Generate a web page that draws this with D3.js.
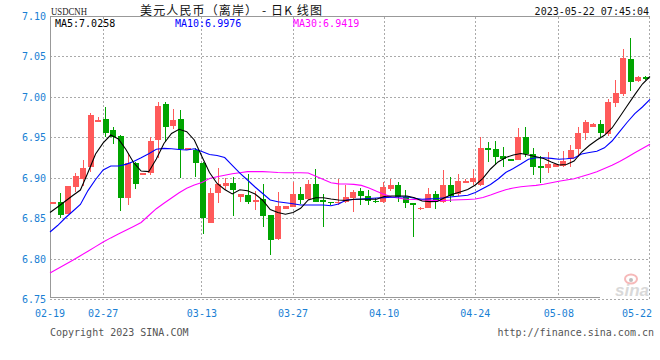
<!DOCTYPE html>
<html><head><meta charset="utf-8">
<script src="https://cdn.jsdelivr.net/npm/d3@7"></script>
<style>body{margin:0;background:#fff}svg{display:block}</style>
</head><body>
<svg id="c" width="660" height="360"></svg>
<script>
const open = [6.8688,6.8700,6.8557,6.8895,6.8987,6.9135,6.9695,6.9732,6.9596,6.9522,
6.8760,6.9192,6.9040,6.9061,6.9473,6.9918,6.9650,6.9732,6.9363,6.9349,
6.9192,6.8450,6.8817,6.8904,6.8945,6.8771,6.8792,6.8710,6.8743,6.8545,
6.8248,6.8619,6.8648,6.8805,6.8743,6.8929,6.8731,6.8712,6.8690,6.8710,
6.8752,6.8842,6.8780,6.8723,6.8710,6.8863,6.8916,6.8764,6.8692,6.8616,
6.8635,6.8805,6.8710,6.8916,6.8805,6.8937,6.8957,6.8916,6.9370,6.9358,
6.9275,6.9236,6.9225,6.9513,6.9300,6.9151,6.9123,6.9142,6.9151,6.9234,
6.9358,6.9556,6.9630,6.9667,6.9543,6.9934,7.0038,7.0471,7.0202,7.0248];
const close = [6.8703,6.8545,6.8904,6.9027,6.9126,6.9782,6.9720,6.9563,6.9513,6.8759,
6.9192,6.8929,6.9061,6.9464,6.9893,6.9630,6.9720,6.9361,6.9372,6.9188,
6.8508,6.8817,6.8929,6.8945,6.8854,6.8805,6.8710,6.8731,6.8537,6.8236,
6.8656,6.8656,6.8805,6.8731,6.8929,6.8710,6.8710,6.8708,6.8710,6.8768,
6.8833,6.8780,6.8722,6.8717,6.8888,6.8916,6.8764,6.8697,6.8688,6.8635,
6.8805,6.8722,6.8916,6.8780,6.8966,6.8966,6.9006,6.9370,6.9349,6.9259,
6.9234,6.9232,6.9513,6.9300,6.9142,6.9123,6.9176,6.9176,6.9213,6.9349,
6.9563,6.9699,6.9667,6.9563,6.9946,7.0058,7.0483,7.0194,7.0248,7.0231];
const high = [6.8706,6.8820,6.8908,6.9068,6.9225,6.9810,6.9753,6.9885,6.9630,6.9535,
6.9308,6.9204,6.9065,6.9513,6.9946,6.9943,6.9856,6.9844,6.9375,6.9374,
6.9204,6.8879,6.9130,6.9003,6.9019,6.8805,6.9052,6.8842,6.8929,6.8550,
6.8833,6.8660,6.8957,6.8891,6.8978,6.9114,6.8805,6.8712,6.8990,6.8916,
6.8854,6.8875,6.8854,6.8752,6.8957,6.8987,6.8957,6.8854,6.8697,6.8640,
6.8875,6.8842,6.9102,6.9011,6.9052,6.8990,6.9110,6.9506,6.9452,6.9460,
6.9390,6.9236,6.9625,6.9637,6.9370,6.9275,6.9321,6.9180,6.9337,6.9411,
6.9637,6.9720,6.9679,6.9720,6.9980,7.0215,7.0594,7.0730,7.0264,7.0264];
const low = [6.8686,6.8510,6.8552,6.8833,6.8904,6.9081,6.9692,6.9513,6.9420,6.8598,
6.8669,6.8870,6.9035,6.9040,6.9246,6.9452,6.9605,6.9006,6.9360,6.9015,
6.8310,6.8450,6.8697,6.8854,6.8533,6.8710,6.8681,6.8607,6.8400,6.8050,
6.8240,6.8615,6.8640,6.8681,6.8730,6.8700,6.8400,6.8669,6.8669,6.8690,
6.8586,6.8669,6.8669,6.8697,6.8697,6.8846,6.8710,6.8628,6.8269,6.8612,
6.8628,6.8616,6.8697,6.8710,6.8780,6.8937,6.8916,6.8904,6.9204,6.9164,
6.9135,6.9232,6.9225,6.9259,6.9040,6.8945,6.9068,6.9140,6.9135,6.9135,
6.9266,6.9473,6.9630,6.9506,6.9522,6.9885,7.0020,7.0079,7.0194,7.0215];
const ma5 = [6.8576,6.8644,6.8715,6.8786,6.8854,6.9071,6.9300,6.9436,6.9534,6.9485,
6.9355,6.9194,6.9089,6.9081,6.9238,6.9429,6.9553,6.9605,6.9575,6.9473,
6.9269,6.9071,6.8935,6.8861,6.8805,6.8857,6.8844,6.8805,6.8728,6.8613,
6.8576,6.8555,6.8576,6.8628,6.8731,6.8759,6.8759,6.8743,6.8731,6.8725,
6.8739,6.8739,6.8739,6.8739,6.8773,6.8780,6.8780,6.8780,6.8758,6.8718,
6.8710,6.8712,6.8760,6.8801,6.8830,6.8861,6.8916,6.8997,6.9114,6.9201,
6.9256,6.9287,6.9306,6.9287,6.9266,6.9245,6.9201,6.9164,6.9170,6.9213,
6.9324,6.9405,6.9473,6.9531,6.9621,6.9757,6.9896,7.0034,7.0165,7.0258];
const ma10 = [6.8335,6.8415,6.8508,6.8591,6.8675,6.8847,6.8984,6.9102,6.9151,6.9151,
6.9171,6.9207,6.9253,6.9302,6.9359,6.9369,6.9364,6.9356,6.9349,6.9365,
6.9330,6.9293,6.9281,6.9256,6.9160,6.9062,6.8978,6.8891,6.8811,6.8731,
6.8708,6.8696,6.8684,6.8669,6.8669,6.8669,6.8669,6.8659,6.8681,6.8731,
6.8736,6.8743,6.8749,6.8755,6.8760,6.8765,6.8768,6.8770,6.8753,6.8740,
6.8745,6.8750,6.8759,6.8770,6.8780,6.8790,6.8823,6.8873,6.8922,6.8990,
6.9071,6.9120,6.9176,6.9235,6.9254,6.9254,6.9245,6.9235,6.9240,6.9250,
6.9300,6.9319,6.9334,6.9376,6.9460,6.9577,6.9692,6.9800,6.9881,6.9976];
const ma30 = [6.7828,6.7880,6.7933,6.7985,6.8042,6.8097,6.8154,6.8210,6.8262,6.8309,
6.8356,6.8403,6.8452,6.8539,6.8623,6.8690,6.8755,6.8821,6.8875,6.8916,
6.8948,6.8997,6.9018,6.9037,6.9056,6.9068,6.9081,6.9081,6.9081,6.9077,
6.9071,6.9068,6.9068,6.9068,6.9065,6.9024,6.8984,6.8943,6.8930,6.8929,
6.8924,6.8911,6.8879,6.8838,6.8800,6.8768,6.8753,6.8739,6.8736,6.8731,
6.8727,6.8723,6.8724,6.8731,6.8733,6.8737,6.8743,6.8762,6.8792,6.8826,
6.8858,6.8879,6.8894,6.8904,6.8911,6.8925,6.8943,6.8962,6.8978,6.8994,
6.9020,6.9050,6.9081,6.9120,6.9160,6.9206,6.9260,6.9314,6.9368,6.9419];
const yTicks = [6.75,6.80,6.85,6.90,6.95,7.00,7.05,7.10];
const tickIdx = [0,7,20,32,44,56,67,79];
const tickLabels = ["02-19","02-27","03-13","03-27","04-10","04-24","05-08","05-22"];
const titleCode = "USDCNH";
const titleText = "美元人民币（离岸） - 日K 线图";
const stamp = "2023-05-22 07:45:04";

const svg = d3.select("#c");
const n = close.length;
const idx = d3.range(n);
const xb = d3.scaleBand().domain(idx).range([49.5, 649.5]);
const xp = d3.scalePoint().domain(idx).range([50, 650]);
const y = d3.scaleLinear().domain([6.75, 7.10]).range([299.5, 16.5]);
const mono = "'DejaVu Sans Mono', 'Liberation Mono', monospace";
const blue = "#1a7fd4";
const snap = v => Math.floor(v) + 0.5;

// grid
const g = svg.append("g").attr("shape-rendering", "crispEdges");
g.selectAll("line.h").data(yTicks.filter(v => v > 6.76 && v < 7.09)).join("line")
  .attr("x1", 50).attr("x2", 650)
  .attr("y1", d => snap(y(d))).attr("y2", d => snap(y(d)))
  .attr("stroke", "#aaa").attr("stroke-dasharray", "2,2");
g.selectAll("line.v").data(tickIdx.slice(1, -1)).join("line")
  .attr("x1", d => snap(xp(d))).attr("x2", d => snap(xp(d)))
  .attr("y1", 17).attr("y2", 297)
  .attr("stroke", "#aaa").attr("stroke-dasharray", "2,2");
// frame
g.append("line").attr("x1", 50).attr("x2", 650).attr("y1", 16.5).attr("y2", 16.5).attr("stroke", "#999");
g.append("line").attr("x1", 50.5).attr("x2", 50.5).attr("y1", 16.5).attr("y2", 298).attr("stroke", "#999");
g.append("line").attr("x1", 50).attr("x2", 600).attr("y1", 297.5).attr("y2", 297.5).attr("stroke", "#999");
g.append("line").attr("x1", 50).attr("x2", 650).attr("y1", 299.5).attr("y2", 299.5).attr("stroke", "#aaa").attr("stroke-dasharray", "2,2");
g.append("line").attr("x1", 649.5).attr("x2", 649.5).attr("y1", 17).attr("y2", 300).attr("stroke", "#aaa").attr("stroke-dasharray", "2,2");

// watermark
const wm = svg.append("g").attr("opacity", 0.55);
wm.append("ellipse").attr("cx", 631).attr("cy", 279).attr("rx", 6).attr("ry", 4.5)
  .attr("fill", "none").attr("stroke", "#f08080").attr("stroke-width", 2);
wm.append("circle").attr("cx", 631).attr("cy", 280).attr("r", 2).attr("fill", "#888");
wm.append("text").attr("x", 615).attr("y", 296).text("sina")
  .attr("font-family", "Arial, 'Liberation Sans', sans-serif").attr("font-style", "italic")
  .attr("font-weight", "bold").attr("font-size", 17).attr("fill", "#bbb");

// candles
const red = "#ff5a5a", green = "#00a400";
const cg = svg.append("g").attr("shape-rendering", "crispEdges");
idx.forEach(i => {
  const up = close[i] >= open[i];
  const col = up ? red : green;
  const cx = xb(i) + xb.bandwidth() / 2;
  cg.append("line").attr("x1", snap(cx)).attr("x2", snap(cx))
    .attr("y1", y(high[i])).attr("y2", y(low[i])).attr("stroke", col);
  const top = y(Math.max(open[i], close[i])), bot = y(Math.min(open[i], close[i]));
  cg.append("rect").attr("x", Math.round(cx - 3)).attr("width", 6)
    .attr("y", top).attr("height", Math.max(1.5, bot - top)).attr("fill", col);
});

// MA lines
const line = arr => d3.line().x(i => xp(i)).y(i => y(arr[i]))(idx);
[[ma30, "#ff00ff"], [ma10, "#0000ff"], [ma5, "#000000"]].forEach(([arr, c]) => {
  svg.append("path").attr("d", line(arr)).attr("fill", "none").attr("stroke", c).attr("stroke-width", 1.1);
});

// y labels
svg.selectAll("text.yl").data(yTicks).join("text")
  .attr("x", 46).attr("y", d => y(d) + 3.5).attr("text-anchor", "end")
  .attr("font-family", mono).attr("font-size", 10).attr("fill", blue)
  .text(d => d3.format(".2f")(d));
// x labels
svg.selectAll("text.xl").data(tickIdx).join("text")
  .attr("x", (d, k) => k === tickIdx.length - 1 ? 652 : xp(d))
  .attr("y", 317)
  .attr("text-anchor", (d, k) => k === tickIdx.length - 1 ? "end" : "middle")
  .attr("font-family", mono).attr("font-size", 10).attr("fill", blue)
  .text((d, k) => tickLabels[k]);

// header
svg.append("text").attr("x", 51).attr("y", 15).text(titleCode)
  .attr("font-family", "'Liberation Serif', 'DejaVu Serif', serif").attr("font-size", 11).attr("fill", "#222")
  .attr("textLength", 36).attr("lengthAdjust", "spacingAndGlyphs");
svg.append("text").attr("x", 140).attr("y", 15).text(titleText)
  .attr("font-family", "'Noto Sans CJK SC', sans-serif").attr("font-size", 12).attr("fill", "#111")
  .attr("textLength", 182);
svg.append("text").attr("x", 649).attr("y", 15).attr("text-anchor", "end").text(stamp)
  .attr("font-family", mono).attr("font-size", 10).attr("fill", "#111");

const last = n - 1;
const legend = [["MA5:", ma5, "#000", 55], ["MA10:", ma10, "#0000ff", 175], ["MA30:", ma30, "#ff00ff", 293]];
legend.forEach(([lab, arr, c, x]) => {
  svg.append("text").attr("x", x).attr("y", 27).text(lab + arr[last].toFixed(4))
    .attr("font-family", mono).attr("font-size", 10).attr("fill", c);
});

// footer
svg.append("text").attr("x", 50).attr("y", 336).text("Copyright 2023 SINA.COM")
  .attr("font-family", mono).attr("font-size", 10).attr("fill", "#555");
svg.append("text").attr("x", 654).attr("y", 336).attr("text-anchor", "end").text("http://finance.sina.com.cn")
  .attr("font-family", mono).attr("font-size", 10).attr("fill", "#555");
</script>
</body></html>
